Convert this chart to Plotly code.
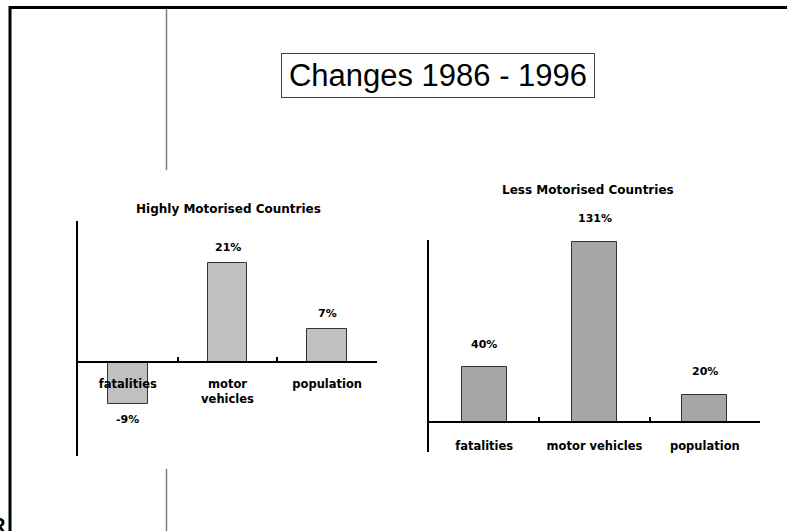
import plotly.graph_objects as go

W, H = 787, 531

def px(p):
    return p / W

def py(p):
    return 1 - p / H

# ---- data ----
categories = ["fatalities", "motor vehicles", "population"]
tick_labels_high = ["fatalities", "motor<br>vehicles", "population"]
tick_labels_less = ["fatalities", "motor vehicles", "population"]
high_values = [-9, 21, 7]
less_values = [40, 131, 20]
high_title = "Highly Motorised Countries"
less_title = "Less Motorised Countries"
main_title = "Changes 1986 - 1996"

BOLD = dict(family="DejaVu Sans", color="black", weight="bold")

fig = go.Figure()

fig.add_trace(go.Bar(
    x=categories, y=high_values, xaxis="x", yaxis="y", width=0.4,
    marker=dict(color="#C0C0C0", line=dict(color="#333333", width=1)),
    hoverinfo="skip", showlegend=False,
))
fig.add_trace(go.Bar(
    x=categories, y=less_values, xaxis="x2", yaxis="y2", width=0.41,
    marker=dict(color="#A6A6A6", line=dict(color="#333333", width=1)),
    hoverinfo="skip", showlegend=False,
))

axis_common = dict(showgrid=False, zeroline=False, showline=True,
                   linecolor="black", linewidth=2)

fig.update_layout(
    width=W, height=H,
    margin=dict(l=0, r=0, t=0, b=0),
    paper_bgcolor="white", plot_bgcolor="rgba(0,0,0,0)",
    bargap=0,
    xaxis=dict(**axis_common, domain=[px(78), px(377)], type="category",
               categoryorder="array", categoryarray=categories,
               tickvals=categories, ticktext=tick_labels_high,
               range=[-0.5, 2.5], anchor="free", position=py(362),
               ticks="inside", tickson="boundaries", ticklen=4,
               tickwidth=1.5, tickcolor="black",
               tickfont=dict(**BOLD, size=11.5), ticklabelstandoff=11),
    yaxis=dict(**axis_common, domain=[py(456), py(221)], range=[-20, 30],
               showticklabels=False, ticks="", anchor="x"),
    xaxis2=dict(**axis_common, domain=[px(429), px(760)], type="category",
                categoryorder="array", categoryarray=categories,
                tickvals=categories, ticktext=tick_labels_less,
                range=[-0.5, 2.5], anchor="free", position=py(422.3),
                ticks="inside", tickson="boundaries", ticklen=4,
                tickwidth=1.5, tickcolor="black",
                tickfont=dict(**BOLD, size=11.5), ticklabelstandoff=13),
    yaxis2=dict(**axis_common, domain=[py(452), py(240)], range=[-21.5, 132.1],
                showticklabels=False, ticks="", anchor="x2"),
)

annotations = []
for c, v in zip(categories, high_values):
    annotations.append(dict(x=c, y=v, xref="x", yref="y", text=f"{v}%",
                            xanchor="center", yanchor="middle",
                            showarrow=False, yshift=16 if v >= 0 else -15,
                            font=dict(**BOLD, size=11)))
for c, v in zip(categories, less_values):
    annotations.append(dict(x=c, y=v, xref="x2", yref="y2", text=f"{v}%",
                            xanchor="center", yanchor="middle",
                            showarrow=False, yshift=23,
                            font=dict(**BOLD, size=11)))

annotations += [
    dict(x=px(228), y=py(209), xref="paper", yref="paper", text=high_title,
         xanchor="center", yanchor="middle",
         showarrow=False, font=dict(**BOLD, size=12)),
    dict(x=px(588), y=py(190), xref="paper", yref="paper", text=less_title,
         xanchor="center", yanchor="middle",
         showarrow=False, font=dict(**BOLD, size=12)),
    dict(x=px(438), y=py(75.5), xref="paper", yref="paper", text=main_title,
         xanchor="center", yanchor="middle",
         showarrow=False, width=312, height=43, borderpad=0,
         bordercolor="#404040", borderwidth=1, bgcolor="white",
         font=dict(family="Liberation Sans", size=31, color="black")),
    dict(x=px(8), y=py(525), xref="paper", yref="paper", text="R",
         xanchor="right", yanchor="middle", showarrow=False,
         font=dict(family="Liberation Sans", size=20, color="black", weight="bold")),
]
fig.update_layout(annotations=annotations)

shapes = [
    # page frame (top and left)
    dict(type="line", xref="paper", yref="paper", x0=px(9), x1=1.0,
         y0=py(7.5), y1=py(7.5), line=dict(color="black", width=3)),
    dict(type="line", xref="paper", yref="paper", x0=px(10), x1=px(10),
         y0=py(6), y1=0.0, line=dict(color="black", width=3)),
    # gray divider
    dict(type="line", xref="paper", yref="paper", x0=px(166.5), x1=px(166.5),
         y0=py(9), y1=py(170), line=dict(color="#808080", width=1.5)),
    dict(type="line", xref="paper", yref="paper", x0=px(166.5), x1=px(166.5),
         y0=py(469), y1=0.0, line=dict(color="#808080", width=1.5)),
]
fig.update_layout(shapes=shapes)

fig.write_html("out.html")
